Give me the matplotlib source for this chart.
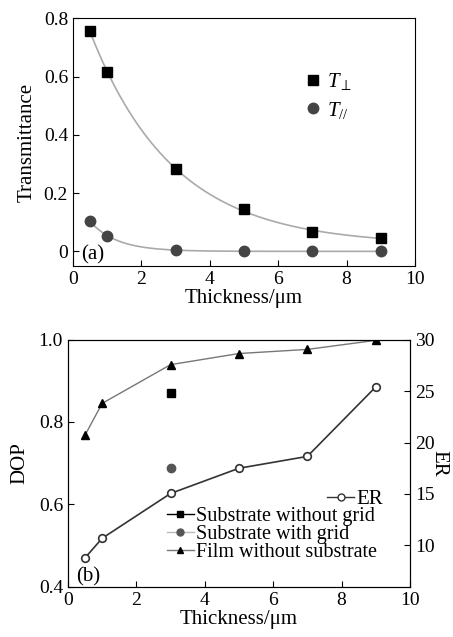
import matplotlib

matplotlib.use('Agg')

import matplotlib.pyplot as plt
import numpy as np
from matplotlib.ticker import FixedLocator, FuncFormatter
from matplotlib.lines import Line2D

plt.rcParams['font.family'] = ['Liberation Serif', 'DejaVu Serif']
plt.rcParams['mathtext.fontset'] = 'custom'
plt.rcParams['mathtext.rm'] = 'Liberation Serif'
plt.rcParams['mathtext.it'] = 'Liberation Serif:italic'
plt.rcParams['xtick.direction'] = 'in'
plt.rcParams['ytick.direction'] = 'in'

# panel (a): transmittance vs thickness
thickness = [0.5, 1, 3, 5, 7, 9]
t_perp = [0.755, 0.616, 0.282, 0.146, 0.065, 0.047]
t_par = [0.103, 0.054, 0.006, 0.0, 0.0, 0.0]

# panel (b): DOP and ER vs thickness
dop_film = [0.768, 0.845, 0.939, 0.966, 0.976, 0.998]
dop_sub_x = [3]
dop_sub_nogrid = [0.871]
dop_sub_grid = [0.689]
er_values = [8.8, 10.7, 15.05, 17.5, 18.65, 25.4]

LABEL = 15
TICK = 14


def exp_fit(x, y):
    # y = a*exp(-x/t) + c, least squares over a grid of decay constants
    x = np.asarray(x, float)
    y = np.asarray(y, float)
    best = None
    for t in np.linspace(0.2, 10, 500):
        A = np.column_stack([np.exp(-x / t), np.ones_like(x)])
        coef, *_ = np.linalg.lstsq(A, y, rcond=None)
        err = np.sum((A @ coef - y) ** 2)
        if best is None or err < best[0]:
            best = (err, t, coef)
    _, t, (a, c) = best
    xs = np.linspace(x.min(), x.max(), 200)
    return xs, a * np.exp(-xs / t) + c


fig = plt.figure(figsize=(4.53, 6.37), dpi=100)

# ---- (a)
ax1 = fig.add_axes([0.161, 0.5824, 0.755, 0.389])
xs, ys = exp_fit(thickness, t_perp)
ax1.plot(xs, ys, color='#aaaaaa', lw=1.2, zorder=1)
xs, ys = exp_fit(thickness, t_par)
ax1.plot(xs, ys, color='#aaaaaa', lw=1.2, zorder=1)
ax1.plot(thickness, t_perp, 's', color='black', ms=7, zorder=3, label=r'$T_{\perp}$')
ax1.plot(thickness, t_par, 'o', color='#444444', ms=7.5, zorder=3, label=r'$T_{//}$')
ax1.set_xlim(0, 10)
ax1.set_ylim(-0.05, 0.8)
ax1.xaxis.set_major_locator(FixedLocator([0, 2, 4, 6, 8, 10]))
ax1.yaxis.set_major_locator(FixedLocator([0, 0.2, 0.4, 0.6, 0.8]))
ax1.yaxis.set_major_formatter(FuncFormatter(lambda v, p: '0' if v == 0 else f'{v:.1f}'))
ax1.set_xlabel('Thickness/μm', fontsize=LABEL, labelpad=1)
ax1.set_ylabel('Transmittance', fontsize=LABEL, labelpad=5)
ax1.tick_params(labelsize=TICK, length=4)
ax1.text(0.025, 0.025, '(a)', transform=ax1.transAxes, fontsize=LABEL)
ax1.legend(loc='upper left', bbox_to_anchor=(0.671, 0.785), frameon=False, borderpad=0,
           borderaxespad=0, fontsize=LABEL, handletextpad=0.2, labelspacing=0.35,
           handlelength=1)

# ---- (b)
ax2 = fig.add_axes([0.150, 0.079, 0.755, 0.388])
ax2.plot(thickness, dop_film, '-^', color='#777777', mfc='black', mec='black', ms=6, lw=1)
ax2.plot(dop_sub_x, dop_sub_nogrid, 's', color='black', ms=5.5)
ax2.plot(dop_sub_x, dop_sub_grid, 'o', color='#555555', ms=6)
ax2.set_xlim(0, 10)
ax2.set_ylim(0.4, 1.0)
ax2.xaxis.set_major_locator(FixedLocator([0, 2, 4, 6, 8, 10]))
ax2.yaxis.set_major_locator(FixedLocator([0.4, 0.6, 0.8, 1.0]))
ax2.yaxis.set_major_formatter(FuncFormatter(lambda v, p: f'{v:.1f}'))
ax2.set_xlabel('Thickness/μm', fontsize=LABEL, labelpad=1)
ax2.set_ylabel('DOP', fontsize=LABEL, labelpad=7)
ax2.tick_params(labelsize=TICK, length=4)
ax2.text(0.025, 0.02, '(b)', transform=ax2.transAxes, fontsize=LABEL)

ax3 = ax2.twinx()
ax3.plot(thickness, er_values, '-o', color='#333333', mfc='white', mec='#333333',
         mew=1.2, ms=5.5, lw=1.2)
ax3.set_ylim(6, 30)
ax3.yaxis.set_major_locator(FixedLocator([10, 15, 20, 25, 30]))
ax3.set_ylabel('ER', fontsize=LABEL, rotation=270, labelpad=10)
ax3.tick_params(labelsize=TICK, length=4)

er_handle = Line2D([], [], color='#333333', marker='o', mfc='white', mec='#333333', ms=5, lw=1)
h1 = Line2D([], [], color='black', marker='s', ms=5, lw=1)
h2 = Line2D([], [], color='#bbbbbb', marker='o', mfc='#555555', mec='#555555', ms=5, lw=1)
h3 = Line2D([], [], color='#777777', marker='^', mfc='black', mec='black', ms=5, lw=1)
ax3.legend([er_handle], ['ER'], loc='center right', bbox_to_anchor=(0.921, 0.354),
           frameon=False, fontsize=LABEL, handlelength=1.3, handletextpad=0.1,
           borderaxespad=0, borderpad=0)
ax2.legend([h1, h2, h3], ['Substrate without grid', 'Substrate with grid', 'Film without substrate'],
           loc='upper left', bbox_to_anchor=(0.289, 0.322), frameon=False, fontsize=14.5,
           handlelength=1.35, handletextpad=0.1, labelspacing=-0.05, borderaxespad=0,
           borderpad=0)

fig.savefig('out.png', dpi=100)
